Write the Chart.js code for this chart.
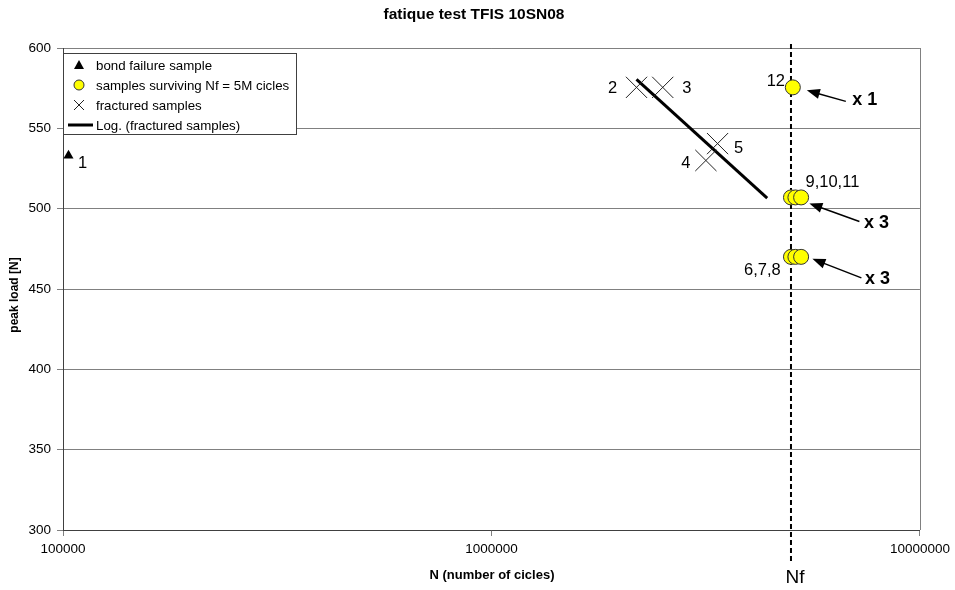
<!DOCTYPE html>
<html>
<head>
<meta charset="utf-8">
<script src="https://cdn.jsdelivr.net/npm/chart.js@4"></script>
<style>
    body { margin: 0; background: #fff; }
    #wrap { width: 955px; height: 590px; }
</style>
</head>
<body>
<div id="wrap"><canvas id="fatigueChart" width="955" height="590"></canvas></div>
<script>
// Values
const bondCycles = [103000];
const bondLoad = [533];
const fracCycles = [2180000, 2510000, 3165000, 3370000];
const fracLoad = [575.5, 575.5, 530, 540.5];
const survCycles = [5050000, 5000000, 5120000, 5280000, 5000000, 5120000, 5280000];
const survLoad = [575.5, 507, 507, 507, 470, 470, 470];
const trendCycles = [2180000, 4400000];
const trendLoad = [580.5, 506.5];
const nfCycles = 5000000;
const xTickValues = [100000, 1000000, 10000000];
const yTickValues = [300, 350, 400, 450, 500, 550, 600];

const FONT = "Arial, 'Liberation Sans', sans-serif";

// sample numbers next to points (ds = dataset index, i = point index)
const sampleLabels = [
    { text: '1', ds: 0, i: 0, dx: 14, dy: 8 },
    { text: '2', ds: 2, i: 0, dx: -24, dy: 1 },
    { text: '3', ds: 2, i: 1, dx: 24, dy: 1 },
    { text: '4', ds: 2, i: 2, dx: -20, dy: 3 },
    { text: '5', ds: 2, i: 3, dx: 21, dy: 5 },
    { text: '12', ds: 1, i: 0, dx: -17, dy: -6 },
    { text: '9,10,11', ds: 1, i: 2, dx: 37, dy: -15 },
    { text: '6,7,8', ds: 1, i: 5, dx: -33, dy: 13.5 }
];

// "x n" callouts with arrows pointing at the surviving samples
const callouts = [
    { text: 'x 1', ds: 1, i: 0, dx: 72, dy: 13, tail: [53, 14], tip: [14, 3] },
    { text: 'x 3', ds: 1, i: 2, dx: 81, dy: 26, tail: [64, 24], tip: [14, 6] },
    { text: 'x 3', ds: 1, i: 5, dx: 82, dy: 22, tail: [66, 21], tip: [17, 2] }
];

function toPoints(xs, ys) {
    return xs.map((x, k) => ({ x: x, y: ys[k] }));
}

function drawArrow(ctx, x1, y1, x2, y2) {
    const ang = Math.atan2(y2 - y1, x2 - x1);
    const head = 13, half = 5;
    const c = Math.cos(ang), s = Math.sin(ang);
    ctx.beginPath();
    ctx.moveTo(x1, y1);
    ctx.lineTo(x2 - head * c * 0.8, y2 - head * s * 0.8);
    ctx.stroke();
    ctx.beginPath();
    ctx.moveTo(x2, y2);
    ctx.lineTo(x2 - head * c + half * s, y2 - head * s - half * c);
    ctx.lineTo(x2 - head * c - half * s, y2 - head * s + half * c);
    ctx.closePath();
    ctx.fill();
}

// Nf line, frame, title, axis titles, legend and labels
const decorPlugin = {
    id: 'decor',
    beforeDatasetsDraw(chart) {
        const ctx = chart.ctx;
        const area = chart.chartArea;
        const x = chart.scales.x.getPixelForValue(nfCycles);
        ctx.save();
        // right frame line
        ctx.strokeStyle = '#808080';
        ctx.lineWidth = 1;
        ctx.beginPath();
        ctx.moveTo(Math.round(area.right) + 0.5, area.top);
        ctx.lineTo(Math.round(area.right) + 0.5, area.bottom);
        ctx.stroke();
        // dashed Nf line
        ctx.strokeStyle = '#000';
        ctx.lineWidth = 2;
        ctx.setLineDash([5, 3]);
        ctx.beginPath();
        ctx.moveTo(x, area.top - 4);
        ctx.lineTo(x, area.bottom + 31);
        ctx.stroke();
        ctx.restore();
    },
    afterDraw(chart) {
        const ctx = chart.ctx;
        const area = chart.chartArea;
        ctx.save();
        ctx.fillStyle = '#000';
        ctx.textBaseline = 'middle';
        ctx.textAlign = 'center';

        ctx.font = 'bold 15.5px ' + FONT;
        ctx.fillText('fatique test TFIS 10SN08', 474, 15);

        ctx.font = 'bold 13px ' + FONT;
        ctx.fillText('N (number of cicles)', 492, 575);

        ctx.save();
        ctx.translate(15, 295);
        ctx.rotate(-Math.PI / 2);
        ctx.font = 'bold 12px ' + FONT;
        ctx.fillText('peak load [N]', 0, 0);
        ctx.restore();

        ctx.font = '19px ' + FONT;
        ctx.fillText('Nf', chart.scales.x.getPixelForValue(nfCycles) + 4, 578);

        // sample numbers
        ctx.font = '16.5px ' + FONT;
        sampleLabels.forEach(l => {
            const p = chart.getDatasetMeta(l.ds).data[l.i];
            ctx.fillText(l.text, p.x + l.dx, p.y + l.dy);
        });

        // callouts
        ctx.font = 'bold 18px ' + FONT;
        ctx.strokeStyle = '#000';
        ctx.lineWidth = 1.5;
        callouts.forEach(c => {
            const p = chart.getDatasetMeta(c.ds).data[c.i];
            ctx.fillText(c.text, p.x + c.dx, p.y + c.dy);
            drawArrow(ctx, p.x + c.tail[0], p.y + c.tail[1], p.x + c.tip[0], p.y + c.tip[1]);
        });

        // legend box
        const lx = area.left, ly = 53, lw = 233, lh = 81;
        ctx.fillStyle = '#fff';
        ctx.fillRect(lx, ly, lw, lh);
        ctx.strokeStyle = '#404040';
        ctx.lineWidth = 1;
        ctx.strokeRect(lx + 0.5, ly + 0.5, lw, lh);

        ctx.textAlign = 'left';
        ctx.font = '13.3px ' + FONT;
        const sx = lx + 16, tx = lx + 33;
        const rows = chart.data.datasets;
        rows.forEach((d, k) => {
            const y = ly + 12 + k * 20;
            ctx.fillStyle = '#000';
            ctx.strokeStyle = '#000';
            if (d.pointStyle === 'triangle') {
                ctx.beginPath();
                ctx.moveTo(sx, y - 5);
                ctx.lineTo(sx + 5, y + 4);
                ctx.lineTo(sx - 5, y + 4);
                ctx.closePath();
                ctx.fill();
            } else if (d.pointStyle === 'circle' && d.showLine !== true) {
                ctx.beginPath();
                ctx.arc(sx, y, 5, 0, Math.PI * 2);
                ctx.fillStyle = d.backgroundColor;
                ctx.fill();
                ctx.strokeStyle = '#333';
                ctx.stroke();
            } else if (d.pointStyle === 'crossRot') {
                ctx.strokeStyle = '#222';
                ctx.beginPath();
                ctx.moveTo(sx - 5, y - 5); ctx.lineTo(sx + 5, y + 5);
                ctx.moveTo(sx + 5, y - 5); ctx.lineTo(sx - 5, y + 5);
                ctx.stroke();
            } else {
                ctx.lineWidth = 3;
                ctx.beginPath();
                ctx.moveTo(lx + 5, y); ctx.lineTo(lx + 30, y);
                ctx.stroke();
                ctx.lineWidth = 1;
            }
            ctx.fillStyle = '#000';
            ctx.fillText(d.label, tx, y + 1);
        });
        ctx.restore();
    }
};

const chartCtx = document.getElementById('fatigueChart').getContext('2d');
const fatigueChart = new Chart(chartCtx, {
    type: 'scatter',
    data: {
        datasets: [{
            label: 'bond failure sample',
            data: toPoints(bondCycles, bondLoad),
            pointStyle: 'triangle',
            pointRadius: 5.8,
            backgroundColor: '#000',
            borderColor: '#000',
            borderWidth: 0
        }, {
            label: 'samples surviving Nf = 5M cicles',
            data: toPoints(survCycles, survLoad),
            pointStyle: 'circle',
            pointRadius: 7.5,
            backgroundColor: '#ffff00',
            borderColor: '#333',
            borderWidth: 1
        }, {
            label: 'fractured samples',
            data: toPoints(fracCycles, fracLoad),
            pointStyle: 'crossRot',
            pointRadius: 15,
            borderColor: '#222',
            borderWidth: 1
        }, {
            label: 'Log. (fractured samples)',
            data: toPoints(trendCycles, trendLoad),
            showLine: true,
            pointRadius: 0,
            borderColor: '#000',
            borderWidth: 3
        }]
    },
    options: {
        responsive: false,
        animation: false,
        devicePixelRatio: 1,
        layout: { padding: { top: 48, right: 34, left: 0, bottom: 0 } },
        plugins: {
            legend: { display: false },
            tooltip: { enabled: false }
        },
        scales: {
            x: {
                type: 'logarithmic',
                min: 100000,
                max: 10000000,
                afterBuildTicks: (scale) => {
                    scale.ticks = xTickValues.map(v => ({ value: v }));
                },
                afterFit: (scale) => { scale.height = 60; },
                ticks: {
                    callback: (v) => String(v),
                    autoSkip: false,
                    maxRotation: 0,
                    padding: 5,
                    color: '#000',
                    font: { family: FONT, size: 13.5 }
                },
                grid: { drawOnChartArea: false, tickLength: 6, color: '#808080' },
                border: { color: '#404040' }
            },
            y: {
                type: 'linear',
                min: 300,
                max: 600,
                afterBuildTicks: (scale) => {
                    scale.ticks = yTickValues.map(v => ({ value: v }));
                },
                afterFit: (scale) => { scale.width = 63; },
                ticks: {
                    padding: 6,
                    color: '#000',
                    font: { family: FONT, size: 13.5 }
                },
                grid: { color: '#808080', tickLength: 6 },
                border: { color: '#404040' }
            }
        }
    },
    plugins: [decorPlugin]
});
</script>
</body>
</html>
